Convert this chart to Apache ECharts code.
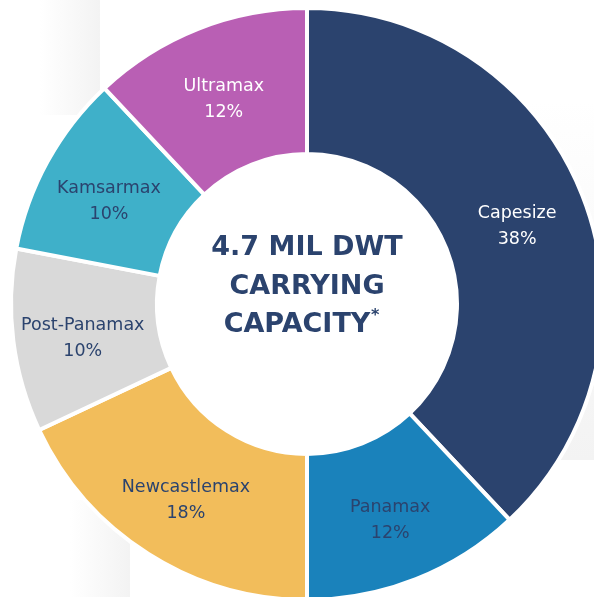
<!DOCTYPE html>
<html>
<head>
<meta charset="utf-8">
<script src="https://cdn.jsdelivr.net/npm/echarts@6/dist/echarts.min.js"></script>
<style>
  html, body { margin: 0; padding: 0; background: #fff; }
  #main { width: 594px; height: 597px; }
</style>
</head>
<body>
<div id="main"></div>
<script>
// fleet split by vessel class
const classes = ['Capesize', 'Panamax', 'Newcastlemax', 'Post-Panamax', 'Kamsarmax', 'Ultramax'];
const shares = [38, 12, 18, 10, 10, 12];
const colors = ['#2b436e', '#1a82bb', '#f2bd5b', '#d9d9d9', '#3fb0c9', '#b95fb4'];
const labelColors = ['#ffffff', '#2b436e', '#2b436e', '#2b436e', '#2b436e', '#ffffff'];
const centerLines = ['4.7 MIL DWT', 'CARRYING', 'CAPACITY'];

const chart = echarts.init(document.getElementById('main'));

const pieData = classes.map((c, i) => ({
  name: c,
  value: shares[i],
  itemStyle: { color: colors[i] },
  label: { color: labelColors[i] }
}));

// faint slide shading behind the ring
const shade = (x, y, w, h, dir) => ({
  type: 'rect', z: -10, silent: true,
  shape: { x: x, y: y, width: w, height: h },
  style: {
    fill: new echarts.graphic.LinearGradient(0, 0, dir === 'h' ? 1 : 0, dir === 'h' ? 0 : 1, [
      { offset: 0, color: '#ffffff' },
      { offset: 1, color: '#f3f3f3' }
    ])
  }
});

const centerText = centerLines.map((t, i) => ({
  type: 'text', z: 10, silent: true,
  x: i === 2 ? 297 : 307, y: 248 + i * 38.5,
  style: {
    text: t,
    textAlign: 'center', textVerticalAlign: 'middle',
    fontFamily: 'DejaVu Sans', fontWeight: 'bold', fontSize: 27,
    fill: '#2b436e'
  }
}));
// asterisk after the last line
centerText.push({
  type: 'text', z: 10, silent: true,
  x: 371, y: 316,
  style: {
    text: '*', textAlign: 'left', textVerticalAlign: 'middle',
    fontFamily: 'DejaVu Sans', fontWeight: 'bold', fontSize: 16, fill: '#2b436e'
  }
});

chart.setOption({
  backgroundColor: '#fff',
  graphic: [
    shade(40, 0, 60, 115, 'h'),
    shade(530, 100, 64, 360, 'v'),
    shade(70, 500, 60, 97, 'h')
  ].concat(centerText),
  series: [{
    type: 'pie',
    center: [307, 304],
    radius: [150, 296],
    startAngle: 90,
    clockwise: true,
    avoidLabelOverlap: false,
    silent: true,
    itemStyle: { borderColor: '#ffffff', borderWidth: 4 },
    label: {
      show: true,
      position: 'inside',
      formatter: p => p.name + '\n' + p.value + '%',
      fontFamily: 'DejaVu Sans',
      fontSize: 17.5,
      lineHeight: 26,
      offset: [0, 6]
    },
    labelLine: { show: false },
    data: pieData
  }]
});
</script>
</body>
</html>
